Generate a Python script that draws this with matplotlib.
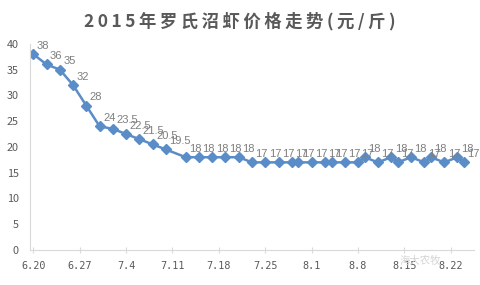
import pandas as pd
import matplotlib
matplotlib.use('Agg')
import matplotlib.pyplot as plt

plt.rcParams['font.family'] = ['Noto Sans CJK SC', 'DejaVu Sans']

# price data (2015)
dates = ['6.20', '6.22', '6.24', '6.26', '6.28', '6.30', '7.2', '7.4', '7.6', '7.8',
         '7.10', '7.13', '7.15', '7.17', '7.19', '7.21', '7.23', '7.25', '7.27', '7.29',
         '7.30', '8.1', '8.3', '8.4', '8.6', '8.8', '8.9', '8.11', '8.13', '8.14',
         '8.16', '8.18', '8.19', '8.21', '8.23', '8.24']
prices = [38, 36, 35, 32, 28, 24, 23.5, 22.5, 21.5, 20.5,
          19.5, 18, 18, 18, 18, 18, 17, 17, 17, 17,
          17, 17, 17, 17, 17, 17, 18, 17, 18, 17,
          18, 17, 18, 17, 18, 17]
tick_labels = ['6.20', '6.27', '7.4', '7.11', '7.18', '7.25', '8.1', '8.8', '8.15', '8.22']
title = '2015年罗氏沼虾价格走势(元/斤)'

def to_date(s):
    m, d = s.split('.')
    return pd.Timestamp(2015, int(m), int(d))

x = [to_date(s) for s in dates]
xt = [to_date(s) for s in tick_labels]

fig = plt.figure(figsize=(4.8, 2.85), dpi=100)
ax = fig.add_axes([0.0625, 0.123, 0.925, 0.723])

blue = '#5A8DC8'
grey = '#595959'
ax.plot(x, prices, color=blue, lw=1.8, marker='D', ms=5, mec=blue, mfc=blue)

for xi, v in zip(x, prices):
    ax.annotate('%g' % v, (xi, v), xytext=(2.5, 2.5), textcoords='offset points',
                ha='left', va='bottom', fontsize=8, color='#7f7f7f',
                family=['Liberation Sans'])

ax.set_ylim(0, 40)
ax.set_yticks(range(0, 41, 5))
ax.set_xlim(x[0] - pd.Timedelta(hours=12), x[0] + pd.Timedelta(days=66.5))
ax.set_xticks(xt)
ax.set_xticklabels(tick_labels, family=['DejaVu Sans Mono'], fontsize=7.3, color=grey)
ax.tick_params(axis='y', length=0, labelsize=7.8, labelcolor=grey, pad=8)
ax.tick_params(axis='x', length=4, direction='inout', color='#d9d9d9', pad=6)

for s in ['top', 'right']:
    ax.spines[s].set_visible(False)
for s in ['left', 'bottom']:
    ax.spines[s].set_color('#d9d9d9')

fig.text(0.5, 0.925, '\u2009'.join(title), ha='center', va='center',
         fontsize=12.5, fontweight='bold', color=grey)

# watermark
fig.text(0.875, 0.085, '海大农牧', ha='center', va='center', fontsize=7.5, color='#d4d4d4')

fig.savefig('out.png', dpi=100)
